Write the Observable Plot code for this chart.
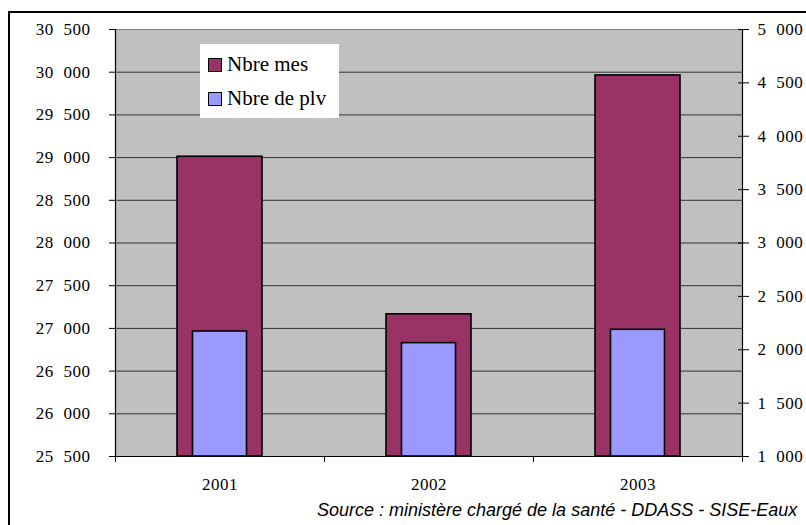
<!DOCTYPE html>
<html><head><meta charset="utf-8">
<script src="https://cdn.jsdelivr.net/npm/d3@7"></script>
<script src="https://cdn.jsdelivr.net/npm/@observablehq/plot@0.6"></script>
<style>
body{margin:0;overflow:hidden;background:#fff;}
#wrap{position:relative;width:806px;height:525px;overflow:hidden;}
#border{position:absolute;left:8px;top:11px;width:900px;height:600px;border:2px solid #000;box-sizing:border-box;}
#chart{position:absolute;left:0;top:0;}
#chart svg text{font-family:"Liberation Serif","Times New Roman",serif !important;font-size:17px !important;letter-spacing:0.5px;word-spacing:5px;fill:#000;}
#legend{position:absolute;left:200px;top:44px;width:139px;height:74px;background:#fff;font-family:"Liberation Serif","Times New Roman",serif;font-size:21px;line-height:21px;}
.sw{position:absolute;left:8px;width:14px;height:14px;box-sizing:border-box;border:1.5px solid #000;}
.lt{position:absolute;left:27px;white-space:nowrap;}
#source{position:absolute;left:317px;top:501px;font-family:"Liberation Sans",Arial,sans-serif;font-style:italic;font-size:18px;line-height:18px;white-space:nowrap;}
</style>
</head><body>
<div id="wrap">
<div id="border"></div>
<div id="chart"></div>
<div id="legend"></div>
<div id="source">Source : ministère chargé de la santé - DDASS - SISE-Eaux</div>
</div>
<script>
const years = ["2001", "2002", "2003"];
const nbreMes = [29010, 27165, 29962];
const nbrePlv = [2171, 2062, 2187];
const leftTicks = [25500, 26000, 26500, 27000, 27500, 28000, 28500, 29000, 29500, 30000, 30500];
const rightTicks = [1000, 1500, 2000, 2500, 3000, 3500, 4000, 4500, 5000];
const seriesNames = ["Nbre mes", "Nbre de plv"];
const colors = ["#993366", "#9999FF"];

// dual axis mapping: right axis [1000,5000] onto left axis [25500,30500]
const leftMin = 25500, leftMax = 30500, rightMin = 1000, rightMax = 5000;
const k = (leftMax - leftMin) / (rightMax - rightMin);
const toLeft = r => leftMin + (r - rightMin) * k;
const toRight = l => rightMin + (l - leftMin) / k;

const fmt = d3.formatLocale({decimal: ",", thousands: " ", grouping: [3]}).format(",d");

const mesData = years.map((y, i) => ({year: y, value: nbreMes[i]}));
const plvData = years.map((y, i) => ({year: y, value: toLeft(nbrePlv[i])}));

const W = 806, H = 525;
const mL = 115, mR = 64, mT = 29, mB = 69;
const band = (W - mL - mR) / years.length;

const plot = Plot.plot({
  width: W, height: H,
  marginLeft: mL, marginRight: mR, marginTop: mT, marginBottom: mB,
  style: {background: "transparent", color: "#000"},
  x: {domain: years, padding: 0, axis: null},
  y: {domain: [leftMin, leftMax], axis: null},
  marks: [
    Plot.frame({fill: "#C0C0C0", stroke: null}),
    Plot.ruleY(leftTicks.slice(1, -1), {stroke: "#333", strokeWidth: 1}),
    Plot.ruleY([leftMax], {stroke: "#808080", strokeWidth: 1}),
    Plot.barY(mesData, {x: "year", y1: leftMin, y2: "value", fill: colors[0], stroke: "#000", strokeWidth: 1.6, insetLeft: 62, insetRight: 62}),
    Plot.barY(plvData, {x: "year", y1: leftMin, y2: "value", fill: colors[1], stroke: "#000", strokeWidth: 1.6, insetLeft: 77.5, insetRight: 77.5}),
    Plot.ruleY([leftMin], {stroke: "#000", strokeWidth: 1.2}),
    Plot.ruleX([years[0]], {dx: -band / 2, y1: leftMin, y2: leftMax, stroke: "#000", strokeWidth: 1.2}),
    Plot.ruleX([years[years.length - 1]], {dx: band / 2, y1: leftMin, y2: leftMax, stroke: "#000", strokeWidth: 1.2}),
    // x boundary ticks
    Plot.axisX({ticks: years, tickSize: 6, dx: -band / 2, tickFormat: () => "", label: null, stroke: "#000"}),
    Plot.axisX({ticks: [years[years.length - 1]], tickSize: 6, dx: band / 2, tickFormat: () => "", label: null, stroke: "#000"}),
    // x labels
    Plot.axisX({ticks: years, tickSize: 0, tickPadding: 21, label: null}),
    // left axis
    Plot.axisY({ticks: leftTicks, tickSize: 6, tickPadding: 19, tickFormat: fmt, label: null, stroke: "#000"}),
    // right axis ticks (crossing the axis line)
    Plot.axisY({anchor: "right", ticks: rightTicks.map(toLeft), tickSize: 11, dx: -5, tickFormat: () => "", label: null, stroke: "#000"}),
    // right axis labels
    Plot.axisY({anchor: "right", ticks: rightTicks.map(toLeft), tickSize: 0, tickPadding: 15, tickFormat: d => fmt(Math.round(toRight(d))), label: null})
  ]
});
document.getElementById("chart").appendChild(plot);

const legend = document.getElementById("legend");
seriesNames.forEach((name, i) => {
  const sw = document.createElement("div");
  sw.className = "sw";
  sw.style.background = colors[i];
  sw.style.top = (14 + i * 34) + "px";
  legend.appendChild(sw);
  const t = document.createElement("div");
  t.className = "lt";
  t.textContent = name;
  t.style.top = (9.5 + i * 34) + "px";
  legend.appendChild(t);
});
</script>
</body></html>
